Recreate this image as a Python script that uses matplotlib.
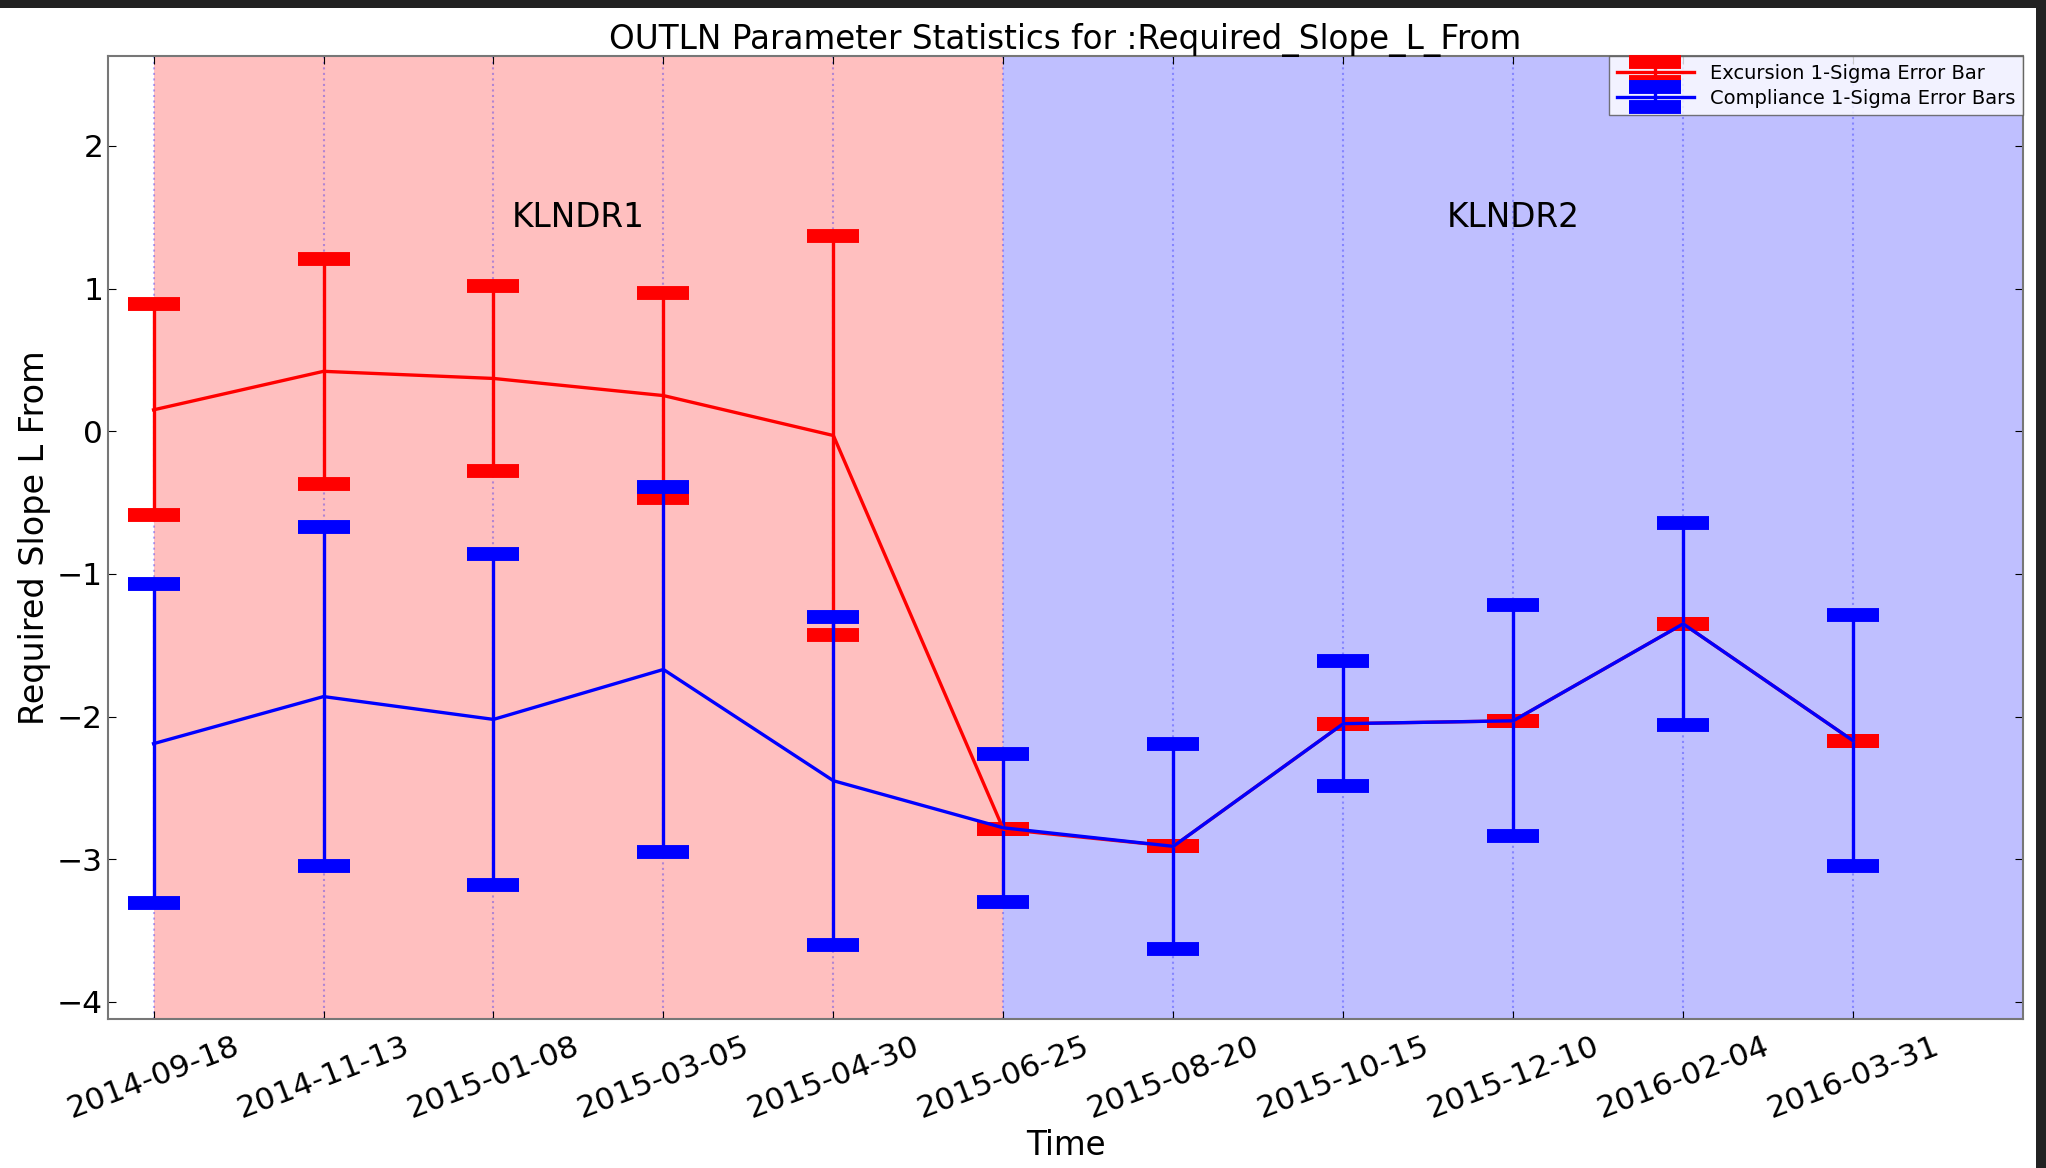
import datetime as dt

import matplotlib
matplotlib.use("Agg")
import matplotlib.pyplot as plt
import matplotlib.dates as mdates
from matplotlib.patches import Rectangle

# sample dates (56 day cadence)
dates = ["2014-09-18", "2014-11-13", "2015-01-08", "2015-03-05", "2015-04-30",
         "2015-06-25", "2015-08-20", "2015-10-15", "2015-12-10", "2016-02-04",
         "2016-03-31"]

# excursion statistics
exc_mean = [0.15, 0.42, 0.37, 0.25, -0.03, -2.79, -2.91, -2.05, -2.03, -1.35, -2.17]
exc_sigma = [0.74, 0.79, 0.65, 0.72, 1.40, 0.0, 0.0, 0.0, 0.0, 0.0, 0.0]

# compliance statistics
comp_mean = [-2.19, -1.86, -2.02, -1.67, -2.45, -2.78, -2.91, -2.05, -2.03, -1.35, -2.17]
comp_sigma = [1.12, 1.19, 1.16, 1.28, 1.15, 0.52, 0.72, 0.44, 0.81, 0.71, 0.88]

# receiver configurations
regions = ["KLNDR1", "KLNDR2"]
region_start = ["2014-09-18", "2015-06-25"]
region_end = ["2015-06-25", "2016-05-26"]
region_color = ["red", "blue"]

x_lo, x_hi = "2014-09-03", "2016-05-26"
y_lo, y_hi = -4.12, 2.63


def to_date(s):
    return dt.datetime.strptime(s, "%Y-%m-%d")


x = [to_date(d) for d in dates]

fig = plt.figure(figsize=(20.46, 11.68), dpi=100)
ax = fig.add_axes([0.0528, 0.1276, 0.9360, 0.8244])

for name, s, e, c in zip(regions, region_start, region_end, region_color):
    ax.axvspan(to_date(s), to_date(e), color=c, alpha=0.25, lw=0)
    mid = to_date(s) + (to_date(e) - to_date(s)) / 2
    ax.text(mid, 1.5, name, ha="center", va="center", fontsize=23.5)

ax.errorbar(x, exc_mean, yerr=exc_sigma, color="red", lw=2.4, elinewidth=2.4,
            capsize=19, capthick=10, label="Excursion 1-Sigma Error Bar")
ax.errorbar(x, comp_mean, yerr=comp_sigma, color="blue", lw=2.4, elinewidth=2.4,
            capsize=19, capthick=10, label="Compliance 1-Sigma Error Bars")

ax.set_xlim(to_date(x_lo), to_date(x_hi))
ax.set_ylim(y_lo, y_hi)
ax.set_xticks(x)
ax.xaxis.set_major_formatter(mdates.DateFormatter("%Y-%m-%d"))
ax.set_yticks([-4, -3, -2, -1, 0, 1, 2])
ax.set_yticklabels(["\u22124", "\u22123", "\u22122", "\u22121", "0", "1", "2"])
ax.xaxis.grid(True, color="blue", alpha=0.3, linestyle=":", linewidth=1.5)

ax.tick_params(direction="in", top=True, right=True, labelsize=22.5, length=6)
ax.tick_params(axis="x", pad=9)
plt.setp(ax.get_xticklabels(), rotation=21, ha="center")
for sp in ax.spines.values():
    sp.set_color("#777777")
    sp.set_linewidth(1.5)

ax.set_title("OUTLN Parameter Statistics for :Required_Slope_L_From", fontsize=23.5, pad=5)
ax.set_xlabel("Time", fontsize=23.5, labelpad=4)
ax.set_ylabel("Required Slope L From", fontsize=24, labelpad=4)

leg = ax.legend(loc="upper right", fontsize=14, borderaxespad=0, fancybox=False,
                handlelength=4, labelspacing=0.3)
leg.get_frame().set_edgecolor("#555555")

# dark screen border along the top and right
fig.add_artist(Rectangle((0, 1 - 8 / 1168), 1, 8 / 1168, transform=fig.transFigure,
                         color="#222222", lw=0))
fig.add_artist(Rectangle((1 - 10 / 2046, 0), 10 / 2046, 1, transform=fig.transFigure,
                         color="#222222", lw=0))

fig.savefig("out.png", dpi=100)
